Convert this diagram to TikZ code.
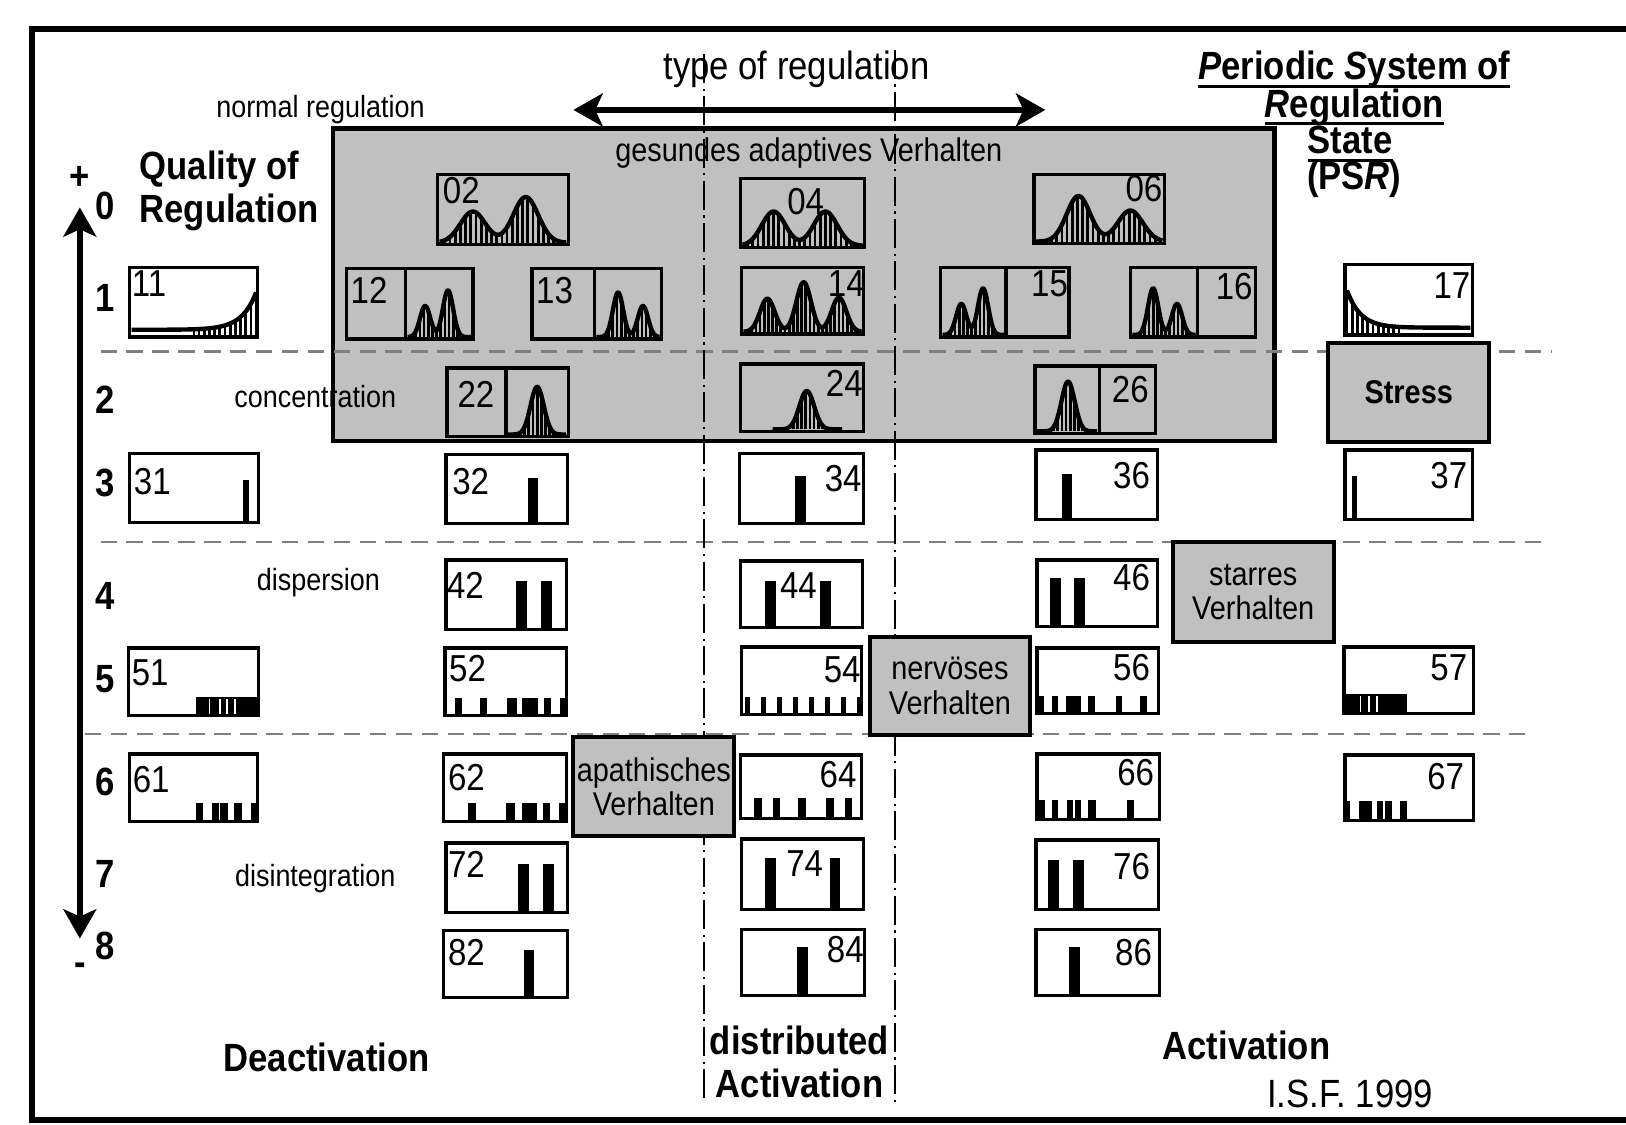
\documentclass[tikz,border=0pt]{standalone}
\usepackage{fontspec}
\setmainfont{Liberation Sans}[FakeStretch=0.88]
\usetikzlibrary{arrows.meta,fit}
\definecolor{psrgray}{RGB}{192,192,192}
\definecolor{sepgray}{RGB}{128,128,128}
\newcommand{\bigfont}{\fontsize{10.8}{12}\selectfont}
\newcommand{\numfont}{\fontsize{10.3}{12}\selectfont}
\newcommand{\smallfont}{\fontsize{8.4}{10}\selectfont}
\newcommand{\boxfont}{\fontsize{9}{9.4}\selectfont}
% underline close to the baseline
\newcommand{\psrline}[1]{\setbox0=\hbox{#1}\rlap{\rule[-2.2pt]{\wd0}{0.8pt}}\box0}
\tikzset{
  cell/.style={draw,line width=0.9pt,inner sep=0pt},
  gbox/.style={draw,line width=1.1pt,fill=psrgray,inner sep=0pt,font=\boxfont,align=center},
  num/.style={font=\numfont,inner sep=0pt},
  rowlbl/.style={font=\bigfont\bfseries,inner sep=0pt},
  lbl/.style={font=\smallfont,inner sep=0pt},
  title/.style={font=\bigfont\bfseries,inner sep=0pt,anchor=base},
  hatch/.style={line width=0.75pt},
  curve/.style={line width=1.2pt,line join=round},
  bigarrow/.style={{Stealth[length=8pt,width=9pt,inset=2pt]}-{Stealth[length=8pt,width=9pt,inset=2pt]},line width=1.5pt},
  rowsep/.style={draw=sepgray,line width=0.6pt,dash pattern=on 4.5pt off 2.6pt},
  colsep/.style={line width=0.4pt,dash pattern=on 8pt off 1.5pt on 0.6pt off 1.5pt},
  declare function={g(\t,\m,\s)=exp(-1*((\t-\m)/\s)*((\t-\m)/\s));}
}
% box from corner to corner
\newcommand{\cellat}[6][cell]{\node[#1,fit={(#3,#4) (#5,#6)}] (#2) {};}
% hatched distribution between x #2 and #3 over base #4
\newcommand{\distr}[5][5]{%
  \pgfmathsetmacro\xnext{#2+#1}
  \foreach \x in {#2,\xnext,...,#3} \draw[hatch] (\x,#4) -- (\x,{#4-(#5)});
  \draw[curve] plot[domain=#2:#3,samples=90] (\x,{#4-(#5)});}
% black bars, top #1, bottom #2
\newcommand{\bars}[3]{\foreach \a/\b in {#3} \fill (\a,#1) rectangle (\b,#2);}
\newcommand{\numNW}[3]{\node[num,anchor=north west] (l#1) at ([shift={(#2,#3)}]b#1.north west) {#1};}
\newcommand{\numNE}[3]{\node[num,anchor=north east] (l#1) at ([shift={(#2,#3)}]b#1.north east) {#1};}

\begin{document}
\begin{tikzpicture}[x=0.01cm,y=-0.01cm]
\useasboundingbox (0,0) rectangle (1568,1084);
\draw[line width=1.6pt] (1580,28) -- (31,28) -- (31,1080) -- (1580,1080);

% healthy area
\node[cell,line width=1.2pt,fill=psrgray,fit={(321,124) (1229,425)}] (healthy) {};
\node[font=\boxfont,inner sep=0pt] (gesund) at (780,148) {gesundes adaptives Verhalten};

% separators
\draw[rowsep] (97,339) -- (1497,339);
\draw[rowsep] (97,523) -- (1494,523);
\draw[rowsep] (82,708) -- (1477,708);
\draw[colsep] (679,52) -- (679,1062);
\draw[colsep] (863,48) -- (863,1065);

% headings
\node[font=\bigfont,inner sep=0pt] (typ) at (768,67) {type of regulation};
\coordinate (tl) at (553,106);
\coordinate (tr) at (1008,106);
\draw[bigarrow] (tl) -- (tr);
\node[lbl] (normal) at (309,106) {normal regulation};
\node[font=\bigfont\bfseries,align=left,inner sep=0pt] (quality) at (221,184) {Quality of\\Regulation};
\node[title] (psr1) at (1306,77) {\psrline{\textit{P}eriodic \textit{S}ystem of}};
\node[title] (psr2) at (1306,113) {\psrline{\textit{R}egulation}};
\node[title] (psr3) at (1302,148) {\psrline{State}};
\node[title] (psr4) at (1306,183) {(PS\textit{R})};

% quality axis
\coordinate (qtop) at (77,200);
\coordinate (qbot) at (77,905);
\draw[bigarrow] (qtop) -- (qbot);
\node[rowlbl] (plus) at (77,172) {+};
\node[rowlbl] (minus) at (77,935) {-};
\foreach \r/\y in {0/199,1/287,2/385,3/466,4/575,5/655,6/754,7/843,8/912}
  \node[rowlbl] (q\r) at (101,\y) {\r};

% row 0
\cellat{b02}{422}{168}{548}{236}
\distr{424}{546}{234}{30*g(\x,456,17)+44*g(\x,507,17)}
\numNW{02}{6}{4}
\cellat{b04}{714}{172}{834}{239}
\distr{716}{832}{237}{33*g(\x,746,16)+33*g(\x,796,16)}
\node[num] (l04) at (777,194) {04};
\cellat{b06}{997}{168}{1123}{235}
\distr{999}{1121}{233}{44*g(\x,1040,16)+30*g(\x,1090,17)}
\numNE{06}{-3}{2}

% row 1
\cellat{b11}{125}{258}{248}{325}
\draw[curve] plot[domain=127:247,samples=60] (\x,{318-36*exp((\x-247)/14)});
\foreach \x in {187,192,...,247} \draw[hatch] (\x,324) -- (\x,{318-36*exp((\x-247)/14)});
\numNW{11}{3}{4}
\cellat{b12}{334}{259}{456}{327}
\draw[cell] (391,0 |- b12.north) -- (391,0 |- b12.south);
\distr[4]{393}{454}{325}{30*g(\x,410,7)+45*g(\x,432,7)}
\numNW{12}{5}{9}
\cellat{b13}{513}{259}{638}{327}
\draw[cell] (573,0 |- b13.north) -- (573,0 |- b13.south);
\distr[4]{575}{636}{325}{43*g(\x,596,7)+30*g(\x,620,7)}
\numNW{13}{5}{9}
\cellat{b14}{715}{258}{833}{322}
\distr[4]{717}{831}{320}{32*g(\x,740,10)+48*g(\x,775,10)+33*g(\x,809,10)}
\numNE{14}{0}{4}
\cellat{b15}{907}{258}{1031}{325}
\draw[cell] (970,0 |- b15.north) -- (970,0 |- b15.south);
\distr[4]{909}{968}{323}{30*g(\x,927,7)+45*g(\x,948,7)}
\numNE{15}{-2}{4}
\cellat{b16}{1090}{258}{1211}{325}
\draw[cell] (1155,0 |- b16.north) -- (1155,0 |- b16.south);
\distr[4]{1092}{1153}{323}{45*g(\x,1112,7)+30*g(\x,1135,7)}
\numNE{16}{-4}{6}
\cellat{b17}{1297}{255}{1420}{323}
\draw[curve] plot[domain=1299:1418,samples=60] (\x,{316-36*exp((1299-\x)/13)});
\foreach \x in {1299,1304,...,1350} \draw[hatch] (\x,322) -- (\x,{316-36*exp((1299-\x)/13)});
\numNE{17}{-3}{9}

% row 2
\cellat{b22}{431}{355}{548}{421}
\draw[cell] (488,0 |- b22.north) -- (488,0 |- b22.south);
\distr[4]{490}{546}{419}{46*g(\x,518,9)}
\node[num] (l22) at (459,380) {22};
\cellat{b24}{714}{351}{833}{416}
\distr[4]{745}{812}{414}{37*g(\x,778,10)}
\numNE{24}{-2}{7}
\cellat{b26}{998}{353}{1114}{418}
\draw[cell] (1060,0 |- b26.north) -- (1060,0 |- b26.south);
\distr[4]{1000}{1058}{416}{48*g(\x,1030,9)}
\node[num] (l26) at (1090,376) {26};
\node[gbox,font=\boxfont\bfseries,minimum width=1.55cm,minimum height=0.95cm] (stress) at (1358.5,378.5) {Stress};

% row 3
\cellat{b31}{125}{437}{249}{504}   \bars{463}{504}{234/240}   \numNW{31}{5}{15}
\cellat{b32}{430}{438}{547}{505}   \bars{461}{505}{509/519}   \numNW{32}{7}{14}
\cellat{b34}{713}{437}{833}{505}   \bars{459}{505}{767/777}   \numNE{34}{-3}{13}
\cellat{b36}{999}{434}{1116}{501}  \bars{457}{501}{1024/1034} \numNE{36}{-8}{13}
\cellat{b37}{1297}{434}{1420}{501} \bars{459}{501}{1304/1309} \numNE{37}{-6}{13}

% row 4
\cellat{b42}{430}{540}{546}{607}   \bars{560}{607}{498/508,522/532}     \numNW{42}{2}{13}
\cellat{b44}{714}{541}{832}{605}   \bars{560}{605}{738/748,791/801}     \node[num] (l44) at (770,565) {44};
\cellat{b46}{1000}{540}{1116}{604} \bars{557}{604}{1013/1023,1036/1046} \numNE{46}{-8}{5}
\node[gbox,minimum width=1.55cm,minimum height=0.96cm] (starr) at (1208.5,571) {starres\\Verhalten};

% row 5
\cellat{b51}{124}{625}{249}{690}
\fill (189,672) rectangle (249,690);
\foreach \x in {202,212,219,227} \draw[white,line width=0.5pt] (\x,674) -- (\x,689);
\numNW{51}{4}{12}
\cellat{b52}{429}{625}{546}{690}   \bars{673}{690}{439/446,463/470,489/499,503/519,525/531,540/546} \numNW{52}{5}{8}
\cellat{b54}{715}{624}{831}{689}
\foreach \k in {0,...,7} \fill ({718+15.5*\k},672) rectangle ({723+15.5*\k},689);
\numNE{54}{-2}{10}
\node[gbox,minimum width=1.54cm,minimum height=0.95cm] (nervoes) at (916,661.5) {nervöses\\Verhalten};
\cellat{b56}{1000}{625}{1117}{688} \bars{671}{688}{1001/1007,1014/1020,1028/1042,1049/1056,1076/1082,1099/1106} \numNE{56}{-9}{7}
\cellat{b57}{1296}{624}{1421}{688}
\fill (1296,669) rectangle (1357,688);
\foreach \x in {1312,1320,1328} \draw[white,line width=0.5pt] (\x,671) -- (\x,687);
\numNE{57}{-7}{8}

% row 6
\cellat{b61}{125}{727}{248}{792}   \bars{774}{792}{189/196,204/211,212/220,226/233,242/248} \numNW{61}{4}{13}
\cellat{b62}{428}{727}{546}{792}   \bars{774}{792}{451/459,488/497,503/518,524/530,539/546} \numNW{62}{5}{11}
\node[gbox,minimum width=1.55cm,minimum height=0.95cm] (apath) at (630.5,758.5) {apathisches\\Verhalten};
\cellat{b64}{714}{728}{831}{789}   \bars{770}{789}{727/735,745/752,770/777,797/804,815/822} \numNE{64}{-6}{7}
\cellat{b66}{1000}{727}{1118}{790} \bars{771}{790}{1001/1008,1014/1020,1029/1035,1037/1042,1049/1057,1087/1094} \numNE{66}{-6}{6}
\cellat{b67}{1297}{728}{1421}{791} \bars{772}{791}{1297/1302,1311/1323,1328/1334,1336/1342,1350/1357} \numNE{67}{-10}{9}

% row 7
\cellat{b72}{430}{813}{547}{880}   \bars{833}{880}{500/510,524/534}     \numNW{72}{3}{9}
\cellat{b74}{715}{809}{833}{877}   \bars{827}{877}{738/748,800/810}     \node[num] (l74) at (776,833) {74};
\cellat{b76}{999}{810}{1117}{877}  \bars{829}{877}{1011/1021,1035/1045} \numNE{76}{-9}{14}

% row 8
\cellat{b82}{428}{897}{547}{962}   \bars{916}{962}{505/515}   \numNW{82}{5}{10}
\cellat{b84}{715}{896}{834}{960}   \bars{913}{960}{769/779}   \numNE{84}{-2}{8}
\cellat{b86}{999}{896}{1118}{960}  \bars{913}{960}{1031/1041} \numNE{86}{-8}{11}

% side labels
\node[lbl] (conc) at (304,382) {concentration};
\node[lbl] (disp) at (307,562) {dispersion};
\node[lbl] (disint) at (304,847) {disintegration};

% bottom
\node[font=\bigfont\bfseries,inner sep=0pt] (deact) at (315,1020) {Deactivation};
\node[font=\bigfont\bfseries,align=center,inner sep=0pt] (distact) at (771,1024) {\fontsize{10.8}{12.5}\selectfont distributed\\Activation};
\node[font=\bigfont\bfseries,inner sep=0pt] (act) at (1202,1008) {Activation};
\node[font=\bigfont,inner sep=0pt] (isf) at (1302,1055) {I.S.F. 1999};
\end{tikzpicture}
\end{document}
